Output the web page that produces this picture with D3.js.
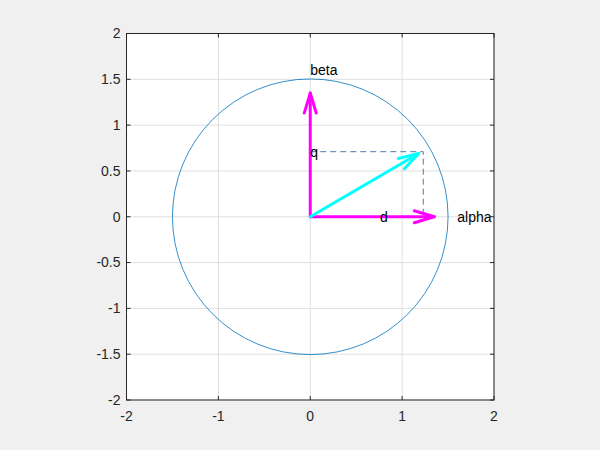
<!DOCTYPE html>
<html><head><meta charset="utf-8">
<script src="https://cdn.jsdelivr.net/npm/d3@7"></script>
<style>html,body{margin:0;padding:0;background:#f0f0f0;}svg{display:block;font-family:"Liberation Sans",Arial,sans-serif;}</style>
</head><body>
<svg id="c" width="600" height="450"></svg>
<script>
// Data
const xTicks = [-2, -1, 0, 1, 2];
const yTicks = [-2, -1.5, -1, -0.5, 0, 0.5, 1, 1.5, 2];
const circleRadius = [1.5];
const vecNames = ["d", "q", "dq"];
const vecX = [1.35, 0, 1.18];
const vecY = [0, 1.35, 0.69];
const vecColors = ["#ff00ff", "#ff00ff", "#00ffff"];
const dashX = [0, 1.23, 1.23];
const dashY = [0.71, 0.71, 0];
const labelText = ["beta", "alpha", "q", "d"];
const labelX = [0, 1.6, 0, 0.76];
const labelY = [1.6, 0, 0.71, 0];

const svg = d3.select("#c");
const L = 126.5, R = 494, T = 33.5, B = 400;
const x = d3.scaleLinear().domain([-2, 2]).range([L, R]);
const y = d3.scaleLinear().domain([-2, 2]).range([B, T]);
const axisCol = "#262626";

svg.append("rect").attr("x", L).attr("y", T).attr("width", R - L).attr("height", B - T).attr("fill", "#fff");

// grid
const g = svg.append("g");
g.selectAll(".gx").data(xTicks).enter().append("line")
  .attr("x1", d => x(d)).attr("x2", d => x(d)).attr("y1", T).attr("y2", B)
  .attr("stroke", "#dfdfdf").attr("stroke-width", 1);
g.selectAll(".gy").data(yTicks).enter().append("line")
  .attr("y1", d => y(d)).attr("y2", d => y(d)).attr("x1", L).attr("x2", R)
  .attr("stroke", "#dfdfdf").attr("stroke-width", 1);

// circle
svg.selectAll(".circ").data(circleRadius).enter().append("circle")
  .attr("cx", x(0)).attr("cy", y(0)).attr("r", d => x(d) - x(0))
  .attr("fill", "none").attr("stroke", "#0072bd").attr("stroke-width", 0.8);

// dashed projection
const dashLine = d3.line().x((d, i) => x(dashX[i])).y((d, i) => y(dashY[i]));
svg.append("path").attr("d", dashLine(dashX)).attr("fill", "none")
  .attr("stroke", "#4a78aa").attr("stroke-width", 1).attr("stroke-dasharray", "6,4");

// arrows
vecNames.forEach((n, i) => {
  const x0 = x(0), y0 = y(0), x1 = x(vecX[i]), y1 = y(vecY[i]);
  const dx = x1 - x0, dy = y1 - y0, len = Math.hypot(dx, dy);
  const ux = dx / len, uy = dy / len;
  const hl = 20, hw = 6;
  const bx = x1 - ux * hl, by = y1 - uy * hl;
  const ga = svg.append("g").attr("stroke", vecColors[i]).attr("stroke-width", 3)
    .attr("fill", "none").attr("stroke-linecap", "round").attr("stroke-linejoin", "round");
  ga.append("line").attr("x1", x0).attr("y1", y0).attr("x2", x1).attr("y2", y1);
  ga.append("path").attr("d", `M${bx - uy * hw},${by + ux * hw}L${x1},${y1}L${bx + uy * hw},${by - ux * hw}`);
});

// labels
svg.selectAll(".lab").data(labelText).enter().append("text")
  .attr("x", (d, i) => x(labelX[i])).attr("y", (d, i) => y(labelY[i]))
  .attr("dy", "0.35em").attr("font-size", 14).attr("fill", "#000").text(d => d);

// axes box
svg.append("rect").attr("x", L).attr("y", T).attr("width", R - L).attr("height", B - T)
  .attr("fill", "none").attr("stroke", axisCol).attr("stroke-width", 1);

// ticks (inward, all four sides)
const tk = 4;
xTicks.forEach(d => {
  svg.append("line").attr("x1", x(d)).attr("x2", x(d)).attr("y1", B).attr("y2", B - tk).attr("stroke", axisCol);
  svg.append("line").attr("x1", x(d)).attr("x2", x(d)).attr("y1", T).attr("y2", T + tk).attr("stroke", axisCol);
});
yTicks.forEach(d => {
  svg.append("line").attr("x1", L).attr("x2", L + tk).attr("y1", y(d)).attr("y2", y(d)).attr("stroke", axisCol);
  svg.append("line").attr("x1", R).attr("x2", R - tk).attr("y1", y(d)).attr("y2", y(d)).attr("stroke", axisCol);
});

// tick labels
svg.selectAll(".xt").data(xTicks).enter().append("text")
  .attr("x", d => x(d)).attr("y", B + 21).attr("text-anchor", "middle")
  .attr("font-size", 14).attr("fill", axisCol).text(d => d < 0 ? "-" + Math.abs(d) : String(d));
svg.selectAll(".yt").data(yTicks).enter().append("text")
  .attr("x", L - 6).attr("y", d => y(d)).attr("dy", "0.35em").attr("text-anchor", "end")
  .attr("font-size", 14).attr("fill", axisCol).text(d => d < 0 ? "-" + Math.abs(d) : String(d));
</script>
</body></html>
